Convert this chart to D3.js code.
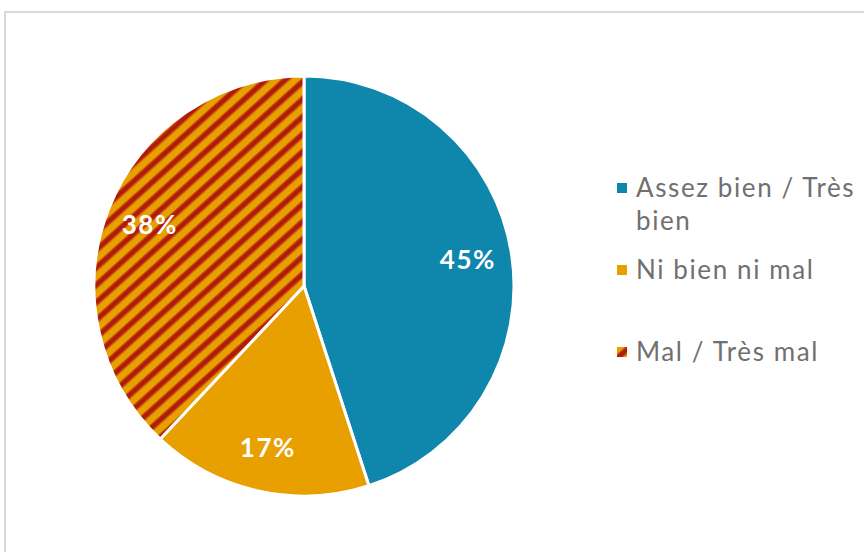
<!DOCTYPE html>
<html>
<head>
<meta charset="utf-8">
<script src="https://cdn.jsdelivr.net/npm/d3@7"></script>
<style>
  body { margin: 0; background: #fff; }
  svg { display: block; }
</style>
</head>
<body>
<svg id="chart" width="864" height="552"></svg>
<script>
const categories = ["Assez bien / Très bien", "Ni bien ni mal", "Mal / Très mal"];
const values = [45, 17, 38];
const legendLines = [["Assez bien / Très", "bien"], ["Ni bien ni mal"], ["Mal / Très mal"]];

const svg = d3.select("#chart");
const width = 864;
const height = 552;

// frame of the chart area
svg.append("path")
    .attr("d", `M5,${height} L5,12 L${width},12`)
    .attr("fill", "none")
    .attr("stroke", "#d9d9d9")
    .attr("stroke-width", 2);

// striped pattern for the last slice, soft edged stripes
const defs = svg.append("defs");
const pat = defs.append("pattern")
    .attr("id", "stripes")
    .attr("patternUnits", "userSpaceOnUse")
    .attr("width", 13)
    .attr("height", 13)
    .attr("patternTransform", "rotate(48)");
pat.append("rect").attr("width", 13).attr("height", 13).attr("fill", "#e8a000");
pat.append("rect").attr("x", 0).attr("width", 6.6).attr("height", 13).attr("fill", "#cc5806");
pat.append("rect").attr("x", 1.2).attr("width", 4.2).attr("height", 13).attr("fill", "#b01a0c");

const colors = ["#0f86ac", "#e8a000", "url(#stripes)"];

const cx = 304, cy = 286, radius = 210;

const pie = d3.pie().sort(null).value(d => d);
const arc = d3.arc().innerRadius(0).outerRadius(radius);
const labelArc = d3.arc().innerRadius(radius * 0.79).outerRadius(radius * 0.79);

const g = svg.append("g").attr("transform", `translate(${cx}, ${cy})`);
const arcs = pie(values);

g.selectAll("path.slice")
    .data(arcs)
    .enter()
    .append("path")
    .attr("class", "slice")
    .attr("d", arc)
    .attr("fill", (d, i) => colors[i])
    .attr("stroke", "#fff")
    .attr("stroke-width", 3)
    .attr("stroke-linejoin", "round");

g.selectAll("text.lbl")
    .data(arcs)
    .enter()
    .append("text")
    .attr("class", "lbl")
    .attr("transform", d => `translate(${labelArc.centroid(d)})`)
    .attr("text-anchor", "middle")
    .attr("dy", "0.36em")
    .style("font-family", "Lato, 'DejaVu Sans', sans-serif")
    .style("font-weight", "bold")
    .style("font-size", "26px")
    .style("letter-spacing", "1.5px")
    .attr("fill", "#fff")
    .text(d => d.data + "%");

// legend
const legendY = d3.scalePoint().domain(categories).range([188, 352]);
const legend = svg.append("g");
categories.forEach((c, i) => {
    const y = legendY(c);
    legend.append("rect")
        .attr("x", 617)
        .attr("y", y - 5)
        .attr("width", 10)
        .attr("height", 10)
        .attr("fill", colors[i]);
    const t = legend.append("text")
        .attr("x", 636)
        .attr("y", y + 9)
        .style("font-family", "Lato, 'DejaVu Sans', sans-serif")
        .style("font-size", "26px")
        .style("letter-spacing", "1.6px")
        .attr("fill", "#707070");
    legendLines[i].forEach((line, j) => {
        t.append("tspan").attr("x", 636).attr("dy", j === 0 ? 0 : 33).text(line);
    });
});
</script>
</body>
</html>
